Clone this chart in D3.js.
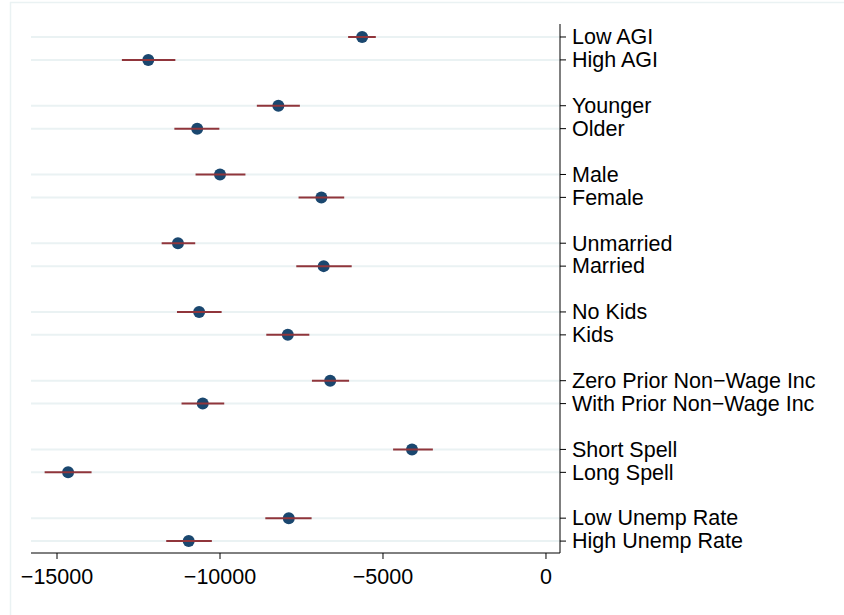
<!DOCTYPE html>
<html>
<head>
<meta charset="utf-8">
<script src="https://cdn.jsdelivr.net/npm/d3@7"></script>
<style>
  html, body { margin: 0; padding: 0; background: #ffffff; }
  svg { display: block; }
  text { font-family: "Liberation Sans", Arial, Helvetica, sans-serif; fill: #000; }
</style>
</head>
<body>
<svg id="chart" width="844" height="615"></svg>
<script>
// ---- data ----
const categories = [
  "Low AGI", "High AGI",
  "Younger", "Older",
  "Male", "Female",
  "Unmarried", "Married",
  "No Kids", "Kids",
  "Zero Prior Non\u2212Wage Inc", "With Prior Non\u2212Wage Inc",
  "Short Spell", "Long Spell",
  "Low Unemp Rate", "High Unemp Rate"
];
const estimates = [
  -5640, -12200,
  -8210, -10700,
  -10000, -6890,
  -11290, -6820,
  -10640, -7920,
  -6620, -10530,
  -4110, -14660,
  -7890, -10960
];
const ciLow = [
  -6070, -13010,
  -8870, -11400,
  -10750, -7590,
  -11790, -7660,
  -11320, -8580,
  -7180, -11180,
  -4690, -15380,
  -8610, -11650
];
const ciHigh = [
  -5220, -11370,
  -7550, -10020,
  -9220, -6190,
  -10760, -5960,
  -9950, -7260,
  -6040, -9870,
  -3470, -13940,
  -7190, -10250
];
const xTicks = [-15000, -10000, -5000, 0];

// ---- layout ----
const svg = d3.select("#chart");
const plotLeft = 31, plotRight = 560, plotTop = 24, plotBottom = 553;

// slot index: pairs separated by one blank slot
const slot = i => i + Math.floor(i / 2);

const x = d3.scaleLinear().domain([-15798, 430]).range([plotLeft, plotRight]);
const y = d3.scaleLinear().domain([-0.567, 22.52]).range([plotTop, plotBottom]);

const gridColor = "#eaf2f3";

// outer graph-region outline
svg.append("line").attr("x1", 10).attr("x2", 844).attr("y1", 2.5).attr("y2", 2.5)
  .attr("stroke", gridColor).attr("stroke-width", 1.5);
svg.append("line").attr("x1", 10.5).attr("x2", 10.5).attr("y1", 2).attr("y2", 615)
  .attr("stroke", gridColor).attr("stroke-width", 1.5);

const rows = categories.map((c, i) => ({
  cat: c, est: estimates[i], lo: ciLow[i], hi: ciHigh[i], pos: y(slot(i))
}));

// gridlines
svg.append("g").selectAll("line").data(rows).join("line")
  .attr("x1", plotLeft).attr("x2", plotRight)
  .attr("y1", d => d.pos).attr("y2", d => d.pos)
  .attr("stroke", gridColor).attr("stroke-width", 2);

// points
svg.append("g").selectAll("circle").data(rows).join("circle")
  .attr("cx", d => x(d.est)).attr("cy", d => d.pos).attr("r", 6)
  .attr("fill", "#1a476f");

// confidence intervals (drawn on top)
svg.append("g").selectAll("line").data(rows).join("line")
  .attr("x1", d => x(d.lo)).attr("x2", d => x(d.hi))
  .attr("y1", d => d.pos).attr("y2", d => d.pos)
  .attr("stroke", "#90353b").attr("stroke-width", 2);

// right y axis
const yAxisG = svg.append("g").attr("transform", `translate(${plotRight},0)`);
yAxisG.append("line").attr("x1", 0).attr("x2", 0).attr("y1", plotTop).attr("y2", plotBottom)
  .attr("stroke", "#000").attr("stroke-width", 1);
const yt = yAxisG.selectAll("g.tick").data(rows).join("g").attr("class", "tick")
  .attr("transform", d => `translate(0,${d.pos})`);
yt.append("line").attr("x1", 0).attr("x2", 6).attr("stroke", "#000").attr("stroke-width", 1);
yt.append("text").attr("x", 12).attr("dy", "0.34em")
  .style("font-size", "21.5px").text(d => d.cat);

// bottom x axis
const xAxisG = svg.append("g").attr("transform", `translate(0,${plotBottom})`);
xAxisG.append("line").attr("x1", plotLeft).attr("x2", plotRight).attr("y1", 0).attr("y2", 0)
  .attr("stroke", "#000").attr("stroke-width", 1);
const xt = xAxisG.selectAll("g.tick").data(xTicks).join("g").attr("class", "tick")
  .attr("transform", d => `translate(${x(d)},0)`);
xt.append("line").attr("y1", 0).attr("y2", 6).attr("stroke", "#000").attr("stroke-width", 1);
xt.append("text").attr("y", 31).attr("text-anchor", "middle")
  .style("font-size", "21.5px").text(d => d < 0 ? "\u2212" + Math.abs(d) : String(d));
</script>
</body>
</html>
